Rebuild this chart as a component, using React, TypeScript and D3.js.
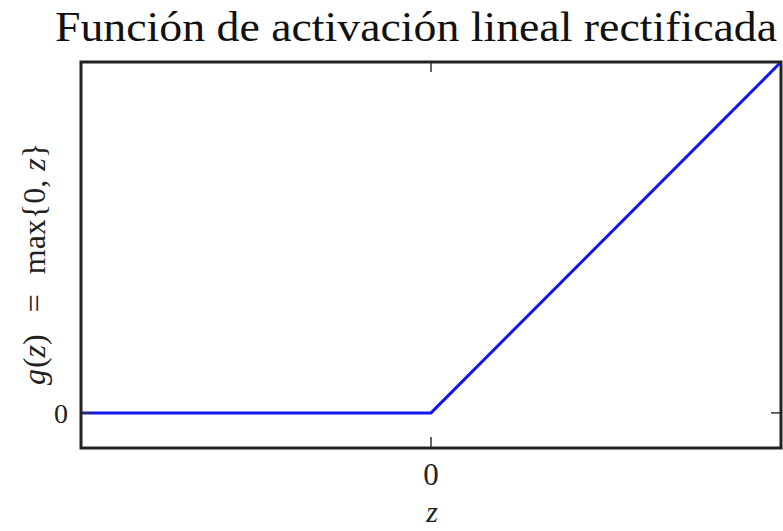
import React from "react";
import * as d3 from "d3";

// ReLU curve sampled at its breakpoints
const zValues = [-1, 0, 1];
const gValues = [0, 0, 1];
const xTicks = [0];
const yTicks = [0];
const xDomain = [-1, 1];
const yDomain = [-0.1, 1];

const W = 783;
const H = 531;
const M = { left: 81, right: 2, top: 62, bottom: 83 };

export default function App() {
  const x = d3.scaleLinear().domain(xDomain).range([M.left, W - M.right]);
  const y = d3.scaleLinear().domain(yDomain).range([H - M.bottom, M.top]);
  const line = d3
    .line<number>()
    .x((_, i) => x(zValues[i]))
    .y((d) => y(d));
  const x0 = M.left, x1 = W - M.right, y0 = M.top, y1 = H - M.bottom;
  const serif = "Liberation Serif";
  return (
    <svg
      width={W}
      height={H}
      style={{ position: "absolute", left: 0, top: 0, background: "#fff" }}
    >
      <text
        x={416}
        y={41}
        textAnchor="middle"
        fontFamily={serif}
        fontSize={42}
        textLength={722}
        lengthAdjust="spacingAndGlyphs"
        fill="#111"
      >
        Función de activación lineal rectificada
      </text>
      <path d={line(gValues) || ""} fill="none" stroke="#1414f0" strokeWidth={3} />
      {xTicks.map((t) => (
        <g key={"x" + t}>
          <line x1={x(t)} x2={x(t)} y1={y1} y2={y1 - 11} stroke="#333" strokeWidth={1.5} />
          <line x1={x(t)} x2={x(t)} y1={y0} y2={y0 + 10} stroke="#333" strokeWidth={1.5} />
          <text x={x(t)} y={y1 + 26} dy="0.35em" textAnchor="middle" fontFamily={serif} fontSize={31} fill="#222">
            {t}
          </text>
        </g>
      ))}
      {yTicks.map((t) => (
        <g key={"y" + t}>
          <line x1={x0} x2={x0 + 10} y1={y(t)} y2={y(t)} stroke="#333" strokeWidth={1.5} />
          <line x1={x1} x2={x1 - 10} y1={y(t)} y2={y(t)} stroke="#333" strokeWidth={1.5} />
          <text x={x0 - 13} y={y(t)} dy="0.35em" textAnchor="end" fontFamily={serif} fontSize={28} fill="#222">
            {t}
          </text>
        </g>
      ))}
      <rect
        x={x0}
        y={y0}
        width={x1 - x0}
        height={y1 - y0}
        fill="none"
        stroke="#222"
        strokeWidth={3}
      />
      <text
        x={432}
        y={522}
        textAnchor="middle"
        fontFamily={serif}
        fontStyle="italic"
        fontSize={30}
        fill="#222"
      >
        z
      </text>
      <text
        transform={`translate(45, 264) rotate(-90)`}
        textAnchor="middle"
        fontFamily={serif}
        fontSize={32}
        fill="#222"
      >
        <tspan fontStyle="italic">g</tspan>
        <tspan dx={1}>(</tspan>
        <tspan fontStyle="italic">z</tspan>
        <tspan>)</tspan>
        <tspan dx={22}>=</tspan>
        <tspan dx={20}>max{"{"}0,</tspan>
        <tspan dx={9} fontStyle="italic">z</tspan>
        <tspan>{"}"}</tspan>
      </text>
    </svg>
  );
}
